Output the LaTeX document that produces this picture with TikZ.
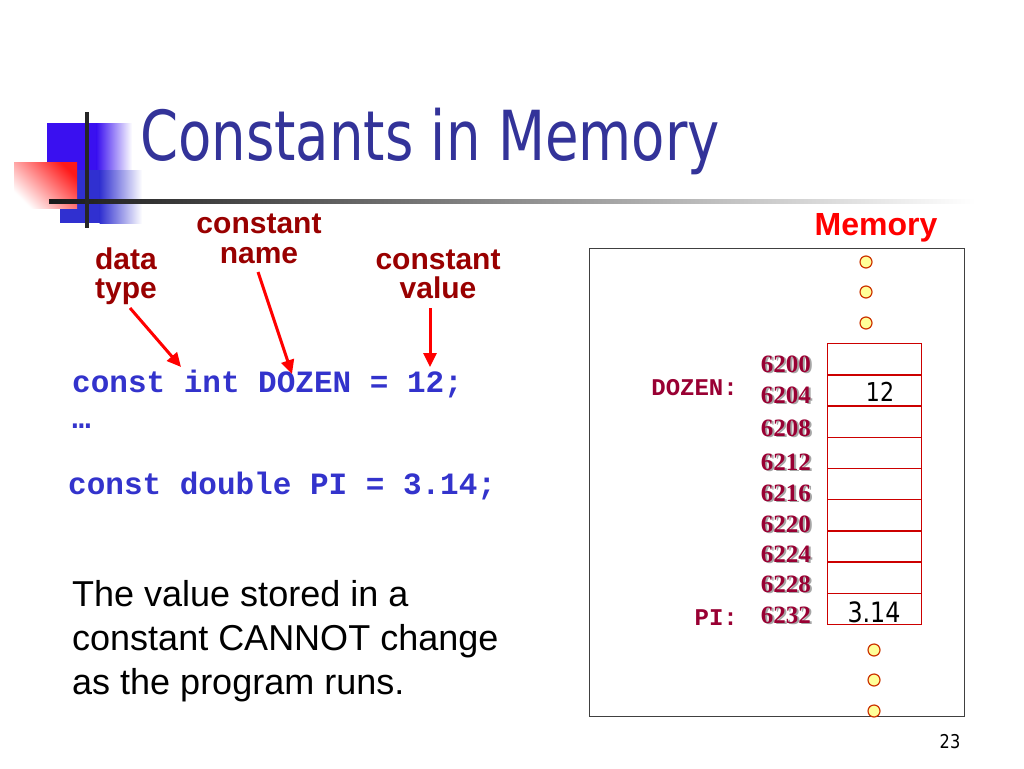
\documentclass[tikz,border=0pt]{standalone}
\usepackage{fontspec}
\setmainfont{Liberation Sans}
\newfontfamily\titlefont[FakeStretch=0.79]{DejaVu Sans}
\newfontfamily\tahfont[FakeStretch=0.85]{DejaVu Sans}
\newfontfamily\codefont{Liberation Mono}
\newfontfamily\addrfont{Liberation Serif}
\usetikzlibrary{arrows.meta}
\definecolor{titleblue}{HTML}{333399}
\definecolor{labelred}{HTML}{990000}
\definecolor{codeblue}{HTML}{3333CC}
\definecolor{memred}{HTML}{FF0000}
\definecolor{addrred}{HTML}{990033}
\definecolor{cellred}{HTML}{CC0000}
\definecolor{dotfill}{HTML}{FFFF99}
\definecolor{dotline}{HTML}{CC3300}
\definecolor{logoblueA}{HTML}{3A10F0}
\definecolor{logoblueB}{HTML}{3030D0}
\tikzset{
  lbl/.style={font=\fontsize{30}{29}\selectfont\bfseries, text=labelred, align=center, inner sep=0pt},
  codeline/.style={font=\codefont\bfseries\fontsize{31}{31}\selectfont, text=codeblue, anchor=base west, inner sep=0pt},
  addr/.style={font=\addrfont\bfseries\fontsize{25}{25}\selectfont, text=addrred, anchor=base east, inner sep=0pt},
  addrshadow/.style={font=\addrfont\bfseries\fontsize{25}{25}\selectfont, text=black!35, anchor=base east, inner sep=0pt},
  varname/.style={font=\codefont\bfseries\fontsize{24}{24}\selectfont, text=addrred, anchor=base east, inner sep=0pt},
  cellbox/.style={draw=cellred, line width=1.3pt, minimum width=94pt, minimum height=31.2pt, inner sep=0pt, anchor=north west},
  cellval/.style={font=\tahfont\fontsize{26}{26}\selectfont, text=black, anchor=base, inner sep=0pt},
  dotc/.style={circle, draw=dotline, fill=dotfill, minimum size=12pt, inner sep=0pt, line width=1.2pt},
  arr/.style={draw=red, line width=3pt, -{Triangle[length=14pt,width=13pt]}}
}
\begin{document}
\begin{tikzpicture}[x=1pt,y=-1pt]
\useasboundingbox[fill=white] (0,0) rectangle (1024,768);
% logo
\fill[logoblueA] (47,123) rectangle (97,170);
\shade[left color=logoblueA, right color=white] (96.5,123) rectangle (132,170);
\fill[logoblueB] (60,170) rectangle (100,223);
\shade[left color=logoblueB, right color=white] (99.5,170) rectangle (142,223);
\shade[bottom color=white, top color=red!90, shading angle=-45] (14,162) rectangle (77,208);
\shade[left color=black!90, right color=white] (49,199) rectangle (975,203);
\fill[black!85] (85,112) rectangle (89,228);
% title
\node[font=\titlefont\fontsize{69}{69}\selectfont, text=titleblue, anchor=base west, inner sep=0pt] (title) at (140,160) {Constants in Memory};
% labels (base anchor = last line baseline)
\node[lbl, anchor=base, font=\fontsize{30}{30}\selectfont\bfseries] (cname) at (259,263) {constant\\name};
\node[lbl, anchor=base] (dtype) at (126,298) {data\\type};
\node[lbl, anchor=base] (cval) at (438,298) {constant\\value};
% code
\node[codeline] (line1) at (72,392) {const int DOZEN = 12;};
\node[codeline] (dots) at (72,428) {…};
\node[codeline] (line2) at (68,494) {const double PI = 3.14;};
% arrows
\coordinate (a1s) at (130,308);
\coordinate (a1e) at (181,367);
\coordinate (a2s) at (258,272);
\coordinate (a2e) at (292,374);
\coordinate (a3s) at (430,308);
\coordinate (a3e) at (430,367);
\draw[arr] (a1s) -- (a1e);
\draw[arr] (a2s) -- (a2e);
\draw[arr] (a3s) -- (a3e);
% paragraph
\node[font=\fontsize{36}{44}\selectfont, anchor=base west, align=left, inner sep=0pt] (para) at (72,694) {The value stored in a\\constant CANNOT change\\as the program runs.};
% memory
\node[font=\fontsize{32}{32}\selectfont\bfseries, text=memred, anchor=base, inner sep=0pt] (memlbl) at (876,235) {Memory};
\node[draw=black!75, line width=1.2pt, minimum width=375pt, minimum height=468pt, anchor=north west, inner sep=0pt] (membox) at (589,248) {};
\foreach \y [count=\k] in {262,292,323} \node[dotc] (td\k) at (866,\y) {};
\foreach \y [count=\k] in {650,680,711} \node[dotc] (bd\k) at (874,\y) {};
\foreach \i in {0,...,8} \node[cellbox] (c\i) at (827,{343+31.2*\i}) {};
\foreach \a/\b [count=\k] in {6200/372,6204/403,6208/436,6212/470,6216/501,6220/532,6224/562,6228/592,6232/623}{
  \node[addrshadow] at (813,{\b+1.6}) {\a};
  \node[addr] (ad\k) at (811,\b) {\a};
}
\node[varname] (vdozen) at (738,395) {DOZEN:};
\node[varname] (vpi) at (738,625) {PI:};
\node[cellval] (v12) at (880,401) {12};
\node[cellval, font=\tahfont\fontsize{28}{28}\selectfont] (v314) at (874,622) {3.14};
% page number
\node[font=\tahfont\fontsize{19}{19}\selectfont, anchor=base, inner sep=0pt] (pnum) at (950,748) {23};
\end{tikzpicture}
\end{document}
